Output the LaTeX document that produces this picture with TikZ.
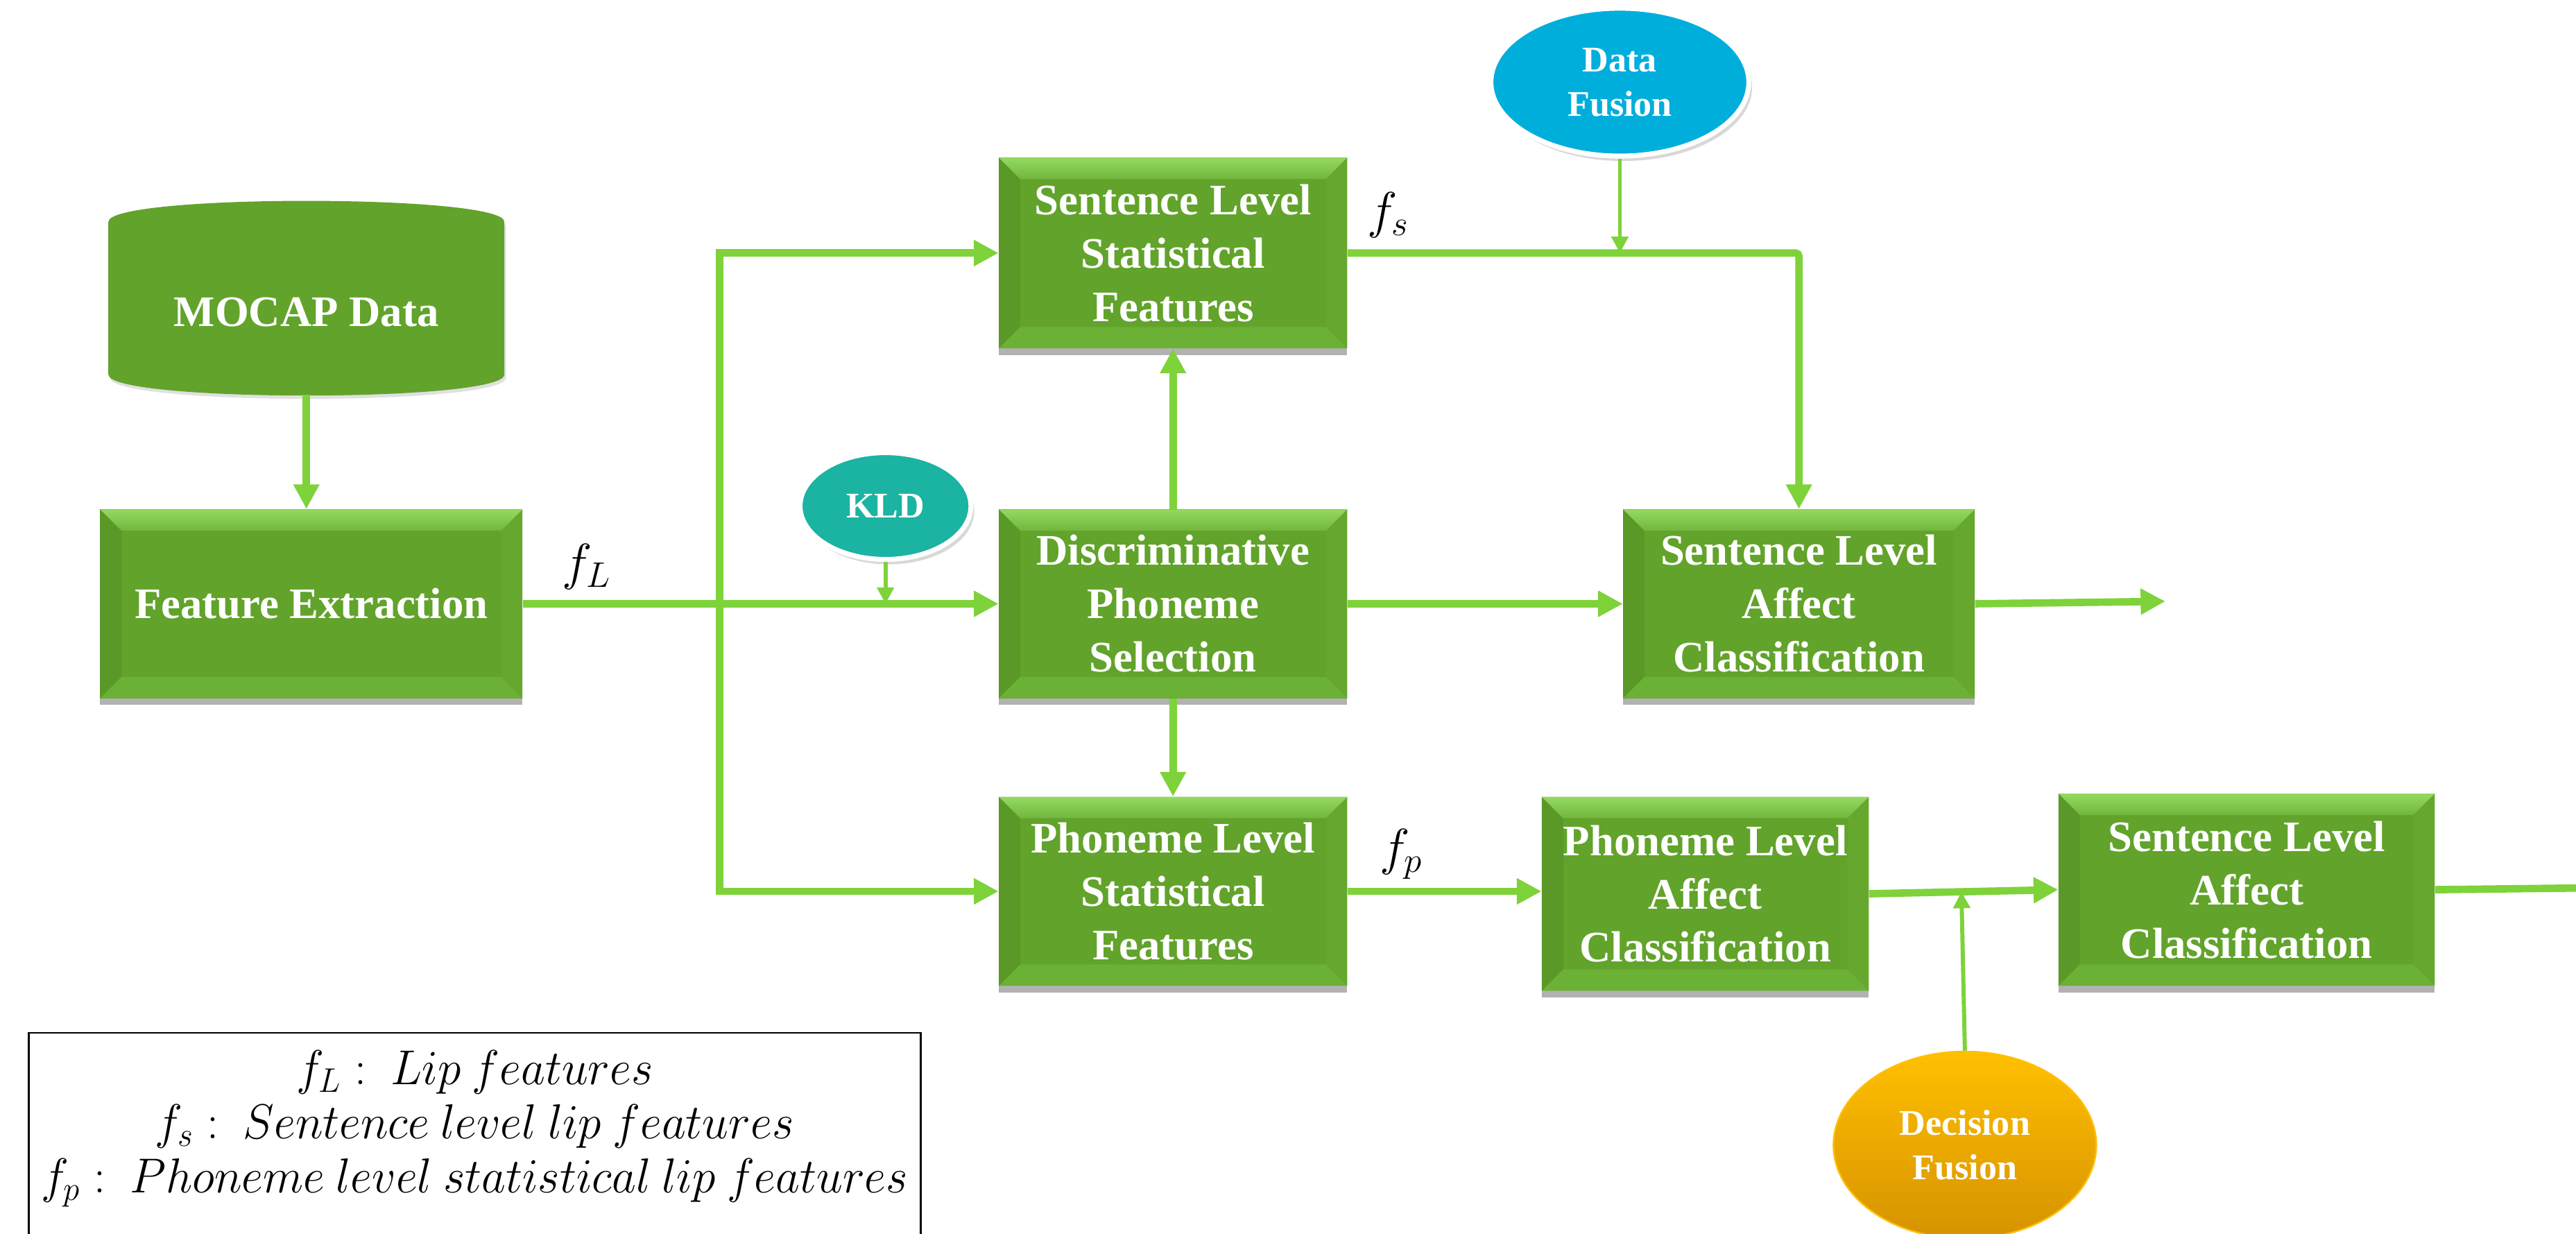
\documentclass[tikz,border=0pt]{standalone}
\usepackage{fontspec}
\setmainfont{Liberation Serif}
\usetikzlibrary{shapes.geometric,arrows.meta,shadows,calc}

\definecolor{boxgreen}{HTML}{62A32B}
\definecolor{boxlight}{HTML}{A4EC72}
\definecolor{boxdark}{HTML}{5A9827}
\definecolor{boxside}{HTML}{66A82E}
\definecolor{boxbottom}{HTML}{6BB135}
\definecolor{arrowgreen}{HTML}{7ED23A}
\definecolor{kldteal}{HTML}{1BB3A1}
\definecolor{fusionblue}{HTML}{00AEDC}
\definecolor{decitop}{HTML}{FFC000}
\definecolor{decibot}{HTML}{D69200}

\pgfdeclareverticalshading{bevtop}{100bp}{color(0bp)=(boxgreen); color(100bp)=(boxlight)}
\pgfdeclareverticalshading{cylshade}{100bp}{color(0bp)=(boxbottom); color(6bp)=(boxgreen); color(86bp)=(boxgreen); color(100bp)=(boxlight)}

\tikzset{
  bevbox/.style={rectangle, fill=boxgreen, text=white, align=center, inner sep=0pt,
    font=\bfseries\fontsize{26.5}{32.5}\selectfont,
    drop shadow={shadow xshift=0pt, shadow yshift=-4pt, opacity=0.3, fill=black},
    path picture={
      \path (path picture bounding box.north west) coordinate (bvnw)
            (path picture bounding box.north east) coordinate (bvne)
            (path picture bounding box.south west) coordinate (bvsw)
            (path picture bounding box.south east) coordinate (bvse);
      \fill[boxdark] (bvnw) -- ([shift={(13pt,-13pt)}]bvnw) -- ([shift={(13pt,13pt)}]bvsw) -- (bvsw) -- cycle;
      \fill[boxside] (bvne) -- ([shift={(-13pt,-13pt)}]bvne) -- ([shift={(-13pt,13pt)}]bvse) -- (bvse) -- cycle;
      \fill[boxbottom] (bvsw) -- ([shift={(13pt,13pt)}]bvsw) -- ([shift={(-13pt,13pt)}]bvse) -- (bvse) -- cycle;
      \fill[shading=bevtop] (bvnw) -- (bvne) -- ([shift={(-13pt,-13pt)}]bvne) -- ([shift={(13pt,-13pt)}]bvnw) -- cycle;
    }},
  fusion/.style={ellipse, inner sep=0pt, text=white, align=center,
    font=\bfseries\fontsize{22}{27}\selectfont},
  conn/.style={draw=arrowgreen, line width=4.5pt, -{Triangle[length=15pt,width=15pt]}},
  connline/.style={draw=arrowgreen, line width=4.5pt},
  thinconn/.style={draw=arrowgreen, line width=2.5pt, -{Triangle[length=10pt,width=10pt]}},
  flabel/.style={font=\fontsize{24}{28}\selectfont, inner sep=0pt, scale=1.25},
}

\begin{document}
\begin{tikzpicture}[x=1pt,y=-1pt]
\useasboundingbox (0,0) rectangle (1568,751);
\clip (0,0) rectangle (1568,751);
\fill[white] (0,0) rectangle (1568,751);

% MOCAP cylinder
\fill[black, opacity=0.12] (67,138) .. controls (67,121) and (308,121) .. (308,138) -- (308,230) .. controls (308,247) and (67,247) .. (67,230) -- cycle;
\path[shading=cylshade] (66,135) .. controls (66,118) and (307,118) .. (307,135) -- (307,228) .. controls (307,245) and (66,245) .. (66,228) -- cycle;
\node[text=white, font=\bfseries\fontsize{26.5}{32}\selectfont, minimum width=241pt, minimum height=100pt, inner sep=0pt] (mocap) at (186.5,190) {MOCAP Data};

% boxes
\node[bevbox, minimum width=257pt, minimum height=115pt] (fe) at (189.5,367.5) {Feature Extraction};
\node[bevbox, minimum width=212pt, minimum height=116pt] (ss) at (714,154) {Sentence Level\\Statistical\\Features};
\node[bevbox, minimum width=212pt, minimum height=115pt] (disc) at (714,367.5) {Discriminative\\Phoneme\\Selection};
\node[bevbox, minimum width=212pt, minimum height=115pt] (ps) at (714,542.5) {Phoneme Level\\Statistical\\Features};
\node[bevbox, minimum width=214pt, minimum height=115pt] (slac1) at (1095,367.5) {Sentence Level\\Affect\\Classification};
\node[bevbox, minimum width=199pt, minimum height=118pt] (plac) at (1038,544) {Phoneme Level\\Affect\\Classification};
\node[bevbox, minimum width=229pt, minimum height=117pt] (slac2) at (1367.5,541.5) {Sentence Level\\Affect\\Classification};

% ellipses
\node[fusion, fill=kldteal, draw=white, line width=3pt, minimum width=104pt, minimum height=65pt,
      drop shadow={shadow xshift=2pt, shadow yshift=-3pt, opacity=0.3}] (kld) at (539,308) {KLD};
\node[fusion, fill=fusionblue, draw=white, line width=3pt, minimum width=157pt, minimum height=90pt,
      drop shadow={shadow xshift=2pt, shadow yshift=-3pt, opacity=0.3}] (df) at (986,50) {Data\\Fusion};
\node[fusion, top color=decitop, bottom color=decibot, draw=decitop, line width=1pt,
      minimum width=160pt, minimum height=114pt] (dec) at (1196,697) {Decision\\Fusion};

% feature labels
\node[flabel] (fL) at (357,345) {$f_L$};
\node[flabel] (fs) at (845,131) {$f_s$};
\node[flabel] (fp) at (853,520) {$f_p$};

% connectors
\draw[conn] (mocap.south) -- (mocap.south |- fe.north);
\draw[conn] (fe.east) -- (disc.west);
\coordinate (bx) at (438,367.5);
\draw[connline, {Triangle[length=15pt,width=15pt]}-{Triangle[length=15pt,width=15pt]}]
  (ss.west) -- (ss.west -| bx) -- (ps.west -| bx) -- (ps.west);
\coordinate (kldhit) at (kld.south |- disc.west);
\draw[thinconn] (kld.south) -- (kldhit);
\draw[conn] (disc.north) -- (ss.south);
\draw[conn] (disc.south) -- (ps.north);
\draw[conn, rounded corners=2pt] (ss.east) -| (slac1.north);
\coordinate (dfhit) at (df.south |- ss.east);
\draw[thinconn] (df.south) -- (dfhit);
\draw[conn] (disc.east) -- (slac1.west);
\coordinate (out1) at (1318,366);
\draw[conn] (slac1.east) -- (out1);
\draw[conn] (ps.east) -- (ps.east -| plac.west);
\draw[conn] (plac.east) -- (slac2.west);
\coordinate (dechit) at ($(plac.east)!(dec.north)!(slac2.west)$);
\draw[thinconn] (dec.north) -- (dechit);
\coordinate (out2) at (1568,540.5);
\draw[connline] (slac2.east) -- (out2);

% legend
\node[draw=black, line width=1pt, anchor=north west, minimum width=543pt, minimum height=200pt, inner sep=0pt] (legend) at (17,628) {};
\node[align=center, font=\fontsize{24}{27.5}\selectfont, inner sep=0pt, xscale=1.15, yscale=1.2] (legendtext) at (289,687)
  {$f_L :\ Lip\ features$\\ $f_s :\ Sentence\ level\ lip\ features$\\ $f_p :\ Phoneme\ level\ statistical\ lip\ features$};
\end{tikzpicture}
\end{document}
